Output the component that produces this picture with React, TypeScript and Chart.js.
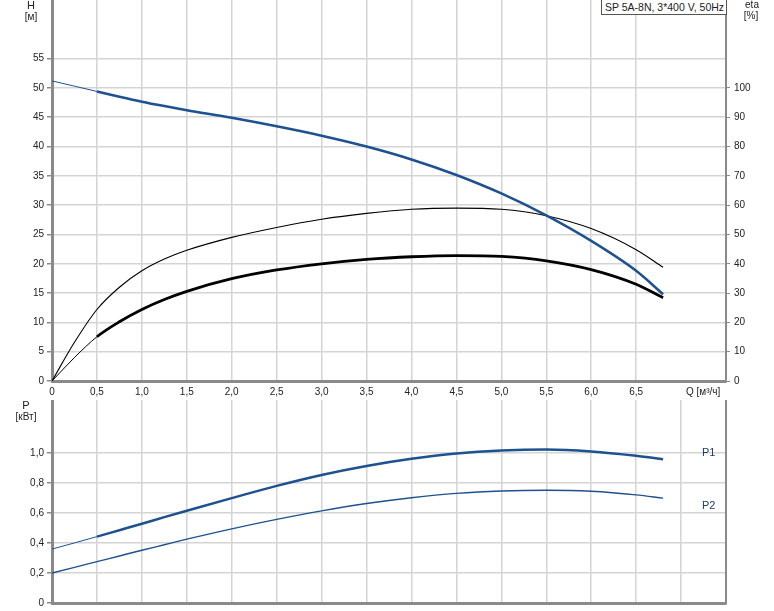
import React, { useEffect, useRef } from 'react';
import { Chart, registerables } from 'chart.js';
Chart.register(...registerables);

// Flow Q [m³/h]
const qPoints = [0, 0.25, 0.5, 0.75, 1, 1.25, 1.5, 2, 2.5, 3, 3.5, 4, 4.5, 5, 5.5, 6, 6.5, 6.8];
// Head H [m]
const headH = [51.2, 50.3, 49.4, 48.5, 47.65, 46.9, 46.2, 44.9, 43.45, 41.85, 40.0, 37.8, 35.15, 32.0, 28.25, 23.9, 18.8, 14.8];
// Efficiency eta [%]
const etaUpper = [0, 13.2, 24.4, 32.0, 37.6, 41.6, 44.6, 49.0, 52.4, 55.2, 57.2, 58.6, 59.0, 58.6, 56.4, 52.0, 44.8, 38.8];
const etaLower = [0, 8, 15.1, 20.2, 24.4, 27.8, 30.6, 34.9, 37.9, 40.0, 41.5, 42.4, 42.8, 42.5, 41.0, 38.0, 33.0, 28.4];
// Power P [kW]
const powerP1 = [0.36, 0.401, 0.443, 0.486, 0.529, 0.573, 0.616, 0.70, 0.782, 0.855, 0.915, 0.963, 0.998, 1.018, 1.025, 1.012, 0.983, 0.96];
const powerP2 = [0.20, 0.238, 0.276, 0.314, 0.352, 0.389, 0.426, 0.495, 0.558, 0.615, 0.664, 0.703, 0.732, 0.748, 0.753, 0.746, 0.722, 0.70];

const legendText = 'SP 5A-8N, 3*400 V, 50Hz';

const BLUE = '#1d5190';
const GRID = '#d4d4d4';
const AXIS = '#8a8a8a';
const FONT = "'Liberation Sans', Arial, sans-serif";
const FS = 10;

const toXY = (ys: number[]) => qPoints.map((q, i) => ({ x: q, y: ys[i] }));
const comma = (v: number) => (Math.abs(v) < 1e-9 ? '0' : v.toFixed(1).replace('.', ','));

const fixSize = (opts: { w?: number; h?: number }) => (scale: any) => {
  if (opts.w !== undefined) scale.width = opts.w;
  if (opts.h !== undefined) scale.height = opts.h;
  scale.paddingLeft = 0;
  scale.paddingRight = 0;
  scale.paddingTop = 0;
  scale.paddingBottom = 0;
};

const thinThick = (thick: number) => ({
  borderWidth: (ctx: any) => (ctx.p0.parsed.x < 0.49 ? 1 : thick),
});

const curve = { pointRadius: 0, cubicInterpolationMode: 'monotone', fill: false };

function TopChart() {
  const ref = useRef<HTMLCanvasElement>(null);
  useEffect(() => {
    const chart = new Chart(ref.current!, {
      type: 'line',
      data: {
        datasets: [
          {
            ...curve,
            data: toXY(headH),
            yAxisID: 'y',
            borderColor: BLUE,
            borderWidth: 2.5,
            segment: thinThick(2.5),
          },
          {
            ...curve,
            data: toXY(etaUpper),
            yAxisID: 'y1',
            borderColor: '#000',
            borderWidth: 1.1,
          },
          {
            ...curve,
            data: toXY(etaLower),
            yAxisID: 'y1',
            borderColor: '#000',
            borderWidth: 2.8,
            segment: thinThick(2.8),
          },
        ],
      },
      options: {
        animation: false,
        responsive: false,
        devicePixelRatio: 1,
        layout: { padding: 0, autoPadding: false } as any,
        plugins: { legend: { display: false }, tooltip: { enabled: false } },
        scales: {
          x: {
            type: 'linear',
            min: 0,
            max: 7.5,
            afterFit: fixSize({ h: 19 }),
            grid: { color: GRID, lineWidth: 1.5, drawTicks: false },
            border: { color: AXIS, width: 3 },
            ticks: {
              stepSize: 0.5,
              padding: 5,
              maxRotation: 0,
              autoSkip: false,
              color: '#222',
              font: { family: FONT, size: FS },
              callback: (v: any) => (v <= 6.5 + 1e-9 ? comma(Number(v)) : null),
            },
          },
          y: {
            type: 'linear',
            position: 'left',
            min: 0,
            max: 65,
            afterFit: fixSize({ w: 52 }),
            grid: { color: GRID, lineWidth: 1.5, tickLength: 5, tickColor: AXIS },
            border: { color: AXIS, width: 3 },
            ticks: {
              stepSize: 5,
              padding: 3,
              color: '#222',
              font: { family: FONT, size: FS },
              callback: (v: any) => (v <= 55 ? String(v) : null),
            },
          },
          y1: {
            type: 'linear',
            position: 'right',
            min: 0,
            max: 130,
            afterFit: fixSize({ w: 48 }),
            grid: { drawOnChartArea: false, tickLength: 4, tickColor: AXIS },
            border: { color: AXIS, width: 2 },
            ticks: {
              stepSize: 10,
              padding: 4,
              color: '#222',
              font: { family: FONT, size: FS },
              callback: (v: any) => (v <= 100 ? String(v) : null),
            },
          },
        },
      } as any,
    });
    return () => chart.destroy();
  }, []);
  return <canvas ref={ref} width={774} height={400} style={{ position: 'absolute', left: 0, top: 0 }} />;
}

function BottomChart() {
  const ref = useRef<HTMLCanvasElement>(null);
  useEffect(() => {
    const chart = new Chart(ref.current!, {
      type: 'line',
      data: {
        datasets: [
          {
            ...curve,
            data: toXY(powerP1),
            yAxisID: 'y',
            borderColor: BLUE,
            borderWidth: 2.5,
            segment: thinThick(2.5),
          },
          {
            ...curve,
            data: toXY(powerP2),
            yAxisID: 'y',
            borderColor: BLUE,
            borderWidth: 1.4,
          },
        ],
      },
      options: {
        animation: false,
        responsive: false,
        devicePixelRatio: 1,
        layout: { padding: 0, autoPadding: false } as any,
        plugins: { legend: { display: false }, tooltip: { enabled: false } },
        scales: {
          x: {
            type: 'linear',
            min: 0,
            max: 7.5,
            afterFit: fixSize({ h: 8 }),
            grid: { color: GRID, lineWidth: 1.5, drawTicks: false },
            border: { color: AXIS, width: 3 },
            ticks: { stepSize: 0.5, display: false },
          },
          y: {
            type: 'linear',
            position: 'left',
            min: 0,
            max: 1.355,
            afterFit: fixSize({ w: 52 }),
            grid: { color: GRID, lineWidth: 1.5, tickLength: 5, tickColor: AXIS },
            border: { color: AXIS, width: 3 },
            ticks: {
              stepSize: 0.2,
              padding: 3,
              color: '#222',
              font: { family: FONT, size: FS },
              callback: (v: any) => (v <= 1.0 + 1e-9 ? comma(Number(v)) : null),
            },
          },
          y1: {
            type: 'linear',
            position: 'right',
            min: 0,
            max: 1,
            afterFit: fixSize({ w: 48 }),
            grid: { drawOnChartArea: false, drawTicks: false },
            border: { color: AXIS, width: 2 },
            ticks: { display: false },
          },
        },
      } as any,
    });
    return () => chart.destroy();
  }, []);
  return <canvas ref={ref} width={774} height={211} style={{ position: 'absolute', left: 0, top: 400 }} />;
}

const txt = (extra: React.CSSProperties): React.CSSProperties => ({
  position: 'absolute',
  fontFamily: FONT,
  fontSize: FS,
  lineHeight: '12px',
  color: '#222',
  whiteSpace: 'nowrap',
  ...extra,
});

export default function App() {
  return (
    <div style={{ position: 'absolute', left: 0, top: 0, width: 774, height: 611, background: '#fff', overflow: 'hidden' }}>
      <TopChart />
      <BottomChart />
      <div style={txt({ left: 11, top: -1, width: 40, textAlign: 'center', fontSize: 11 })}>H</div>
      <div style={txt({ left: 11, top: 11, width: 40, textAlign: 'center' })}>[м]</div>
      <div style={txt({ left: 732, top: -1, width: 40, textAlign: 'center' })}>eta</div>
      <div style={txt({ left: 731, top: 10, width: 40, textAlign: 'center' })}>[%]</div>
      <div style={txt({ left: 6, top: 399, width: 40, textAlign: 'center', fontSize: 11 })}>P</div>
      <div style={txt({ left: 6, top: 411, width: 40, textAlign: 'center' })}>[кВт]</div>
      <div style={txt({ left: 686, top: 386 })}>Q [м³/ч]</div>
      <div style={txt({ left: 702, top: 446, color: '#1f3f66', fontSize: 11 })}>P1</div>
      <div style={txt({ left: 702, top: 499, color: '#1f3f66', fontSize: 11 })}>P2</div>
      <div
        style={txt({
          left: 601,
          top: -1,
          width: 121,
          height: 14,
          paddingLeft: 3,
          border: '1px solid #555',
          background: '#fff',
          lineHeight: '15px',
          fontSize: 10.5,
        })}
      >
        {legendText}
      </div>
    </div>
  );
}
